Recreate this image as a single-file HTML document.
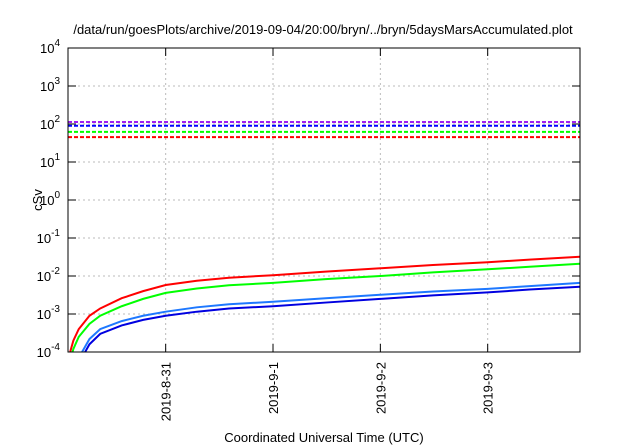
<!DOCTYPE html>
<html><head><meta charset="utf-8"><style>
body{margin:0;background:#fff}
svg{font-family:"Liberation Sans",sans-serif;display:block}
</style></head><body>
<svg id="c" width="640" height="448">
<defs><clipPath id="clip"><rect x="68" y="48" width="512" height="304"/></clipPath></defs>
<text x="323" y="34" font-size="13" text-anchor="middle" fill="#000">/data/run/goesPlots/archive/2019-09-04/20:00/bryn/../bryn/5daysMarsAccumulated.plot</text>
<text x="324" y="442" font-size="13" text-anchor="middle" fill="#000">Coordinated Universal Time (UTC)</text>
<text x="0" y="0" font-size="13" text-anchor="middle" transform="translate(42,200) rotate(-90)">cSv</text>
<g id="grid"></g><g id="marks" clip-path="url(#clip)"></g><g id="axes"></g>
</svg>
<script>
const days=[0.02,0.05,0.1,0.2,0.3,0.5,0.7,0.91,1.2,1.5,1.91,2.4,2.91,3.4,3.91,4.3,4.77];
const red=[1e-4,2e-4,4e-4,9e-4,1.4e-3,2.6e-3,4e-3,5.8e-3,7.5e-3,9e-3,1.05e-2,1.3e-2,1.6e-2,1.95e-2,2.3e-2,2.7e-2,3.2e-2];
const green=[6e-5,1.2e-4,2.5e-4,5.5e-4,9e-4,1.6e-3,2.5e-3,3.6e-3,4.7e-3,5.7e-3,6.6e-3,8.3e-3,1.0e-2,1.25e-2,1.5e-2,1.75e-2,2.1e-2];
const lightBlue=[2e-5,3e-5,7e-5,2.2e-4,4e-4,6.5e-4,9e-4,1.15e-3,1.5e-3,1.8e-3,2.1e-3,2.6e-3,3.2e-3,3.9e-3,4.6e-3,5.4e-3,6.6e-3];
const blue=[1e-5,2e-5,5e-5,1.6e-4,3e-4,5e-4,7e-4,9e-4,1.15e-3,1.4e-3,1.6e-3,2e-3,2.5e-3,3.1e-3,3.7e-3,4.4e-3,5.2e-3];
const limitValues=[113,90,62,45];
const limitColors=["#a020f0","#0000ff","#00ff00","#ff0000"];
const tickDays=[0.91,1.91,2.91,3.91,4.91];
const tickLabels=["2019-8-31","2019-9-1","2019-9-2","2019-9-3","2019-9-4"];
const yExps=[-4,-3,-2,-1,0,1,2,3,4];
const L=68,R=580,T=48,B=352,D0=0,D1=4.77;
const X=d=>L+(d-D0)/(D1-D0)*(R-L);
const Y=v=>B-(Math.log10(v)+4)/8*(B-T);
const NS="http://www.w3.org/2000/svg";
function mk(tag,attrs,parent){const e=document.createElementNS(NS,tag);for(const k in attrs)e.setAttribute(k,attrs[k]);document.getElementById(parent).appendChild(e);return e;}
yExps.forEach(e=>{const y=Y(Math.pow(10,e));
 if(e>-4&&e<4){const g=mk('line',{x1:L,x2:R,y1:y,y2:y,stroke:'#bbb','stroke-dasharray':'2,3','stroke-width':1},'grid');
 
 }
 const t1=mk('line',{x1:L,x2:L+8,y1:y,y2:y,stroke:'#000'},'axes');
 
 
 const t2=mk('line',{x1:R-8,x2:R,y1:y,y2:y,stroke:'#000'},'axes');
 
 
 const tx=mk('text',{x:L-8,y:y+5,'font-size':13,'text-anchor':'end'},'axes');
 
 
 tx.textContent='10';const s=document.createElementNS(NS,'tspan');s.setAttribute('dy','-7');s.setAttribute('font-size','10');s.textContent=String(e);tx.appendChild(s);
});
tickDays.forEach((d,i)=>{const x=X(d);if(x>R)return;
 const g=mk('line',{x1:x,x2:x,y1:T,y2:B,stroke:'#bbb','stroke-dasharray':'2,3'},'grid');
 
 
 const t1=mk('line',{x1:x,x2:x,y1:B-8,y2:B,stroke:'#000'},'axes');
 
 
 const t2=mk('line',{x1:x,x2:x,y1:T,y2:T+8,stroke:'#000'},'axes');
 
 
 const tx=mk('text',{x:0,y:0,'font-size':13,'text-anchor':'end',transform:`translate(${x+5},${B+10}) rotate(-90)`},'axes');
 
 
 tx.textContent=tickLabels[i];
});
limitValues.forEach((v,i)=>{const l=mk('line',{x1:L,x2:R,y1:Y(v),y2:Y(v),stroke:limitColors[i],'stroke-width':2,'stroke-dasharray':'4,2'},'marks');
 
 });
[[red,'#ff0000'],[green,'#00ff00'],[lightBlue,'#1e78ff'],[blue,'#0000e0']].forEach(([s,c])=>{
 const p=mk('polyline',{points:s.map((v,i)=>X(days[i])+','+Y(v)).join(' '),fill:'none',stroke:c,'stroke-width':2},'marks');
 
 });
const f=mk('rect',{x:L,y:T,width:R-L,height:B-T,fill:'none',stroke:'#000','stroke-width':1},'axes');


</script>
</body></html>
